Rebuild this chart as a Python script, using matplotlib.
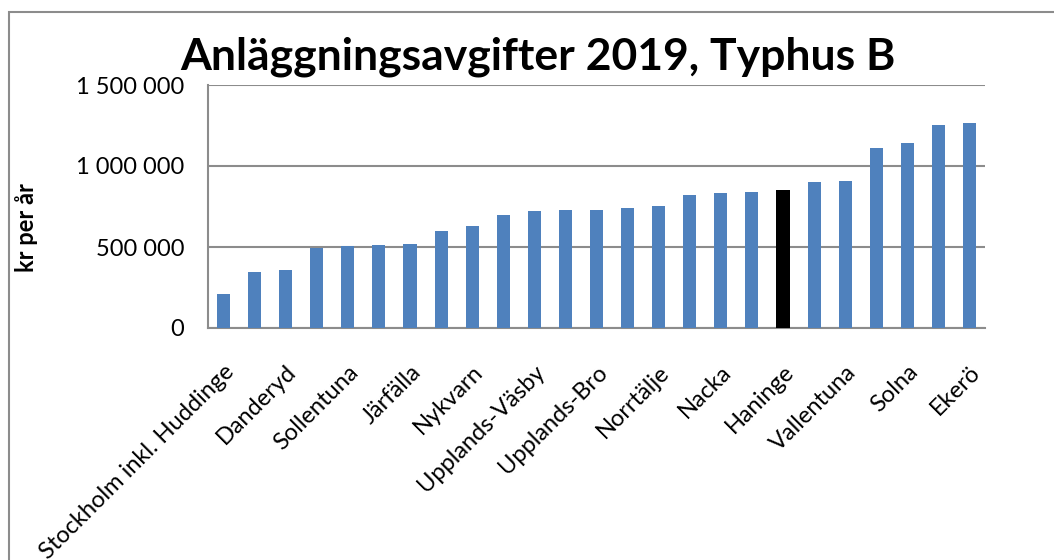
import matplotlib.pyplot as plt
from matplotlib.patches import Rectangle
from matplotlib.ticker import FuncFormatter

plt.rcParams['font.family'] = ['Lato', 'DejaVu Sans']

# Only every other municipality is labelled in the original chart
kommuner = ['Stockholm inkl. Huddinge', '', 'Danderyd', '', 'Sollentuna', '',
            'Järfälla', '', 'Nykvarn', '', 'Upplands-Väsby', '', 'Upplands-Bro',
            '', 'Norrtälje', '', 'Nacka', '', 'Haninge', '', 'Vallentuna', '',
            'Solna', '', 'Ekerö']
avgift = [207800, 343600, 356000, 495900, 504100, 510300, 516500, 596700,
          627600, 695500, 720200, 726300, 726300, 738700, 751000, 818900,
          831300, 837400, 849800, 899200, 905300, 1109000, 1139900, 1251000,
          1263400]
markerad = 'Haninge'

blue = '#4f81bd'
grey = '#8c8c8c'

fig = plt.figure(figsize=(10.54, 5.6), dpi=100)
ax = fig.add_axes([208 / 1054, 1 - 328 / 560, 777 / 1054, 243 / 560])

colors = ['black' if k == markerad else blue for k in kommuner]
x = range(len(avgift))
ax.bar(x, avgift, width=0.42, color=colors, zorder=3)

ax.set_xlim(-0.5, len(avgift) - 0.5)
ax.set_ylim(0, 1500000)
ax.set_yticks([0, 500000, 1000000, 1500000])
ax.yaxis.set_major_formatter(FuncFormatter(lambda v, p: f'{int(v):,}'.replace(',', ' ')))
ax.grid(axis='y', color=grey, linewidth=1.5, zorder=0)
ax.set_xticks(list(x))
ax.set_xticklabels(kommuner, rotation=45, ha='right', rotation_mode='anchor')
ax.tick_params(axis='both', length=0, labelsize=17)
ax.tick_params(axis='x', pad=24)
ax.tick_params(axis='y', pad=17)

for s in ['top', 'right']:
    ax.spines[s].set_visible(False)
for s in ['left', 'bottom']:
    ax.spines[s].set_color(grey)
    ax.spines[s].set_linewidth(1.5)

fig.text(27 / 1054, 1 - 228 / 560, 'kr per år', fontsize=17, fontweight='bold',
         rotation=90, ha='center', va='center')
fig.text(538 / 1054, 1 - 57 / 560, 'Anläggningsavgifter 2019, Typhus B',
         fontsize=32, fontweight='bold', ha='center', va='center')

# outer chart border, running off the right and bottom edges
fig.patches.append(Rectangle((9 / 1054, -0.1), 1.1, 1 - 12 / 560 + 0.1,
                             transform=fig.transFigure, fill=False,
                             edgecolor=grey, linewidth=1.5))

fig.savefig('out.png', dpi=100)
